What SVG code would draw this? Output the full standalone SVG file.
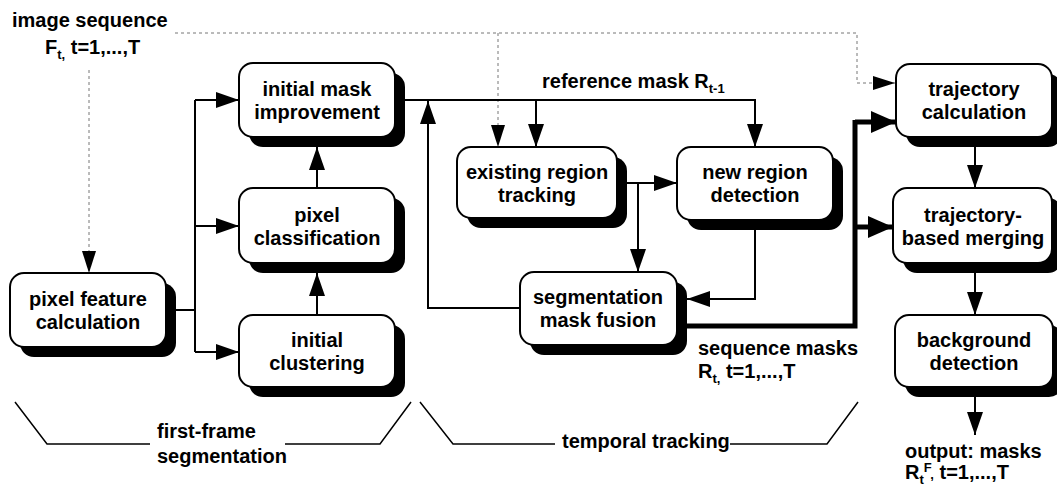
<svg xmlns="http://www.w3.org/2000/svg" width="1057" height="489" viewBox="0 0 1057 489">
<defs>
<marker id="a" markerUnits="userSpaceOnUse" markerWidth="23" markerHeight="16" refX="23" refY="8" orient="auto"><path d="M0,0 L23,8 L0,16 z" fill="#000"/></marker>
<marker id="ak" markerUnits="userSpaceOnUse" markerWidth="25" markerHeight="22" refX="25" refY="11" orient="auto"><path d="M0,0 L25,11 L0,22 z" fill="#000"/></marker>
<marker id="ad" markerUnits="userSpaceOnUse" markerWidth="22" markerHeight="14" refX="22" refY="7" orient="auto"><path d="M0,0 L22,7 L0,14 z" fill="#000"/></marker>
</defs>
<style>
.t{font-family:"Liberation Sans",Arial,sans-serif;font-weight:bold;font-size:20px;fill:#000}
.c{text-anchor:middle}
.s{font-size:13px}
.sh{fill:#000}
.bx{fill:#fff;stroke:#000;stroke-width:2}
.ln{fill:none;stroke:#000;stroke-width:2}
.tk{fill:none;stroke:#000;stroke-width:5}
.dt{fill:none;stroke:#777;stroke-width:1;stroke-dasharray:3,3}
.br{fill:none;stroke:#000;stroke-width:1.5}
</style>
<rect width="1057" height="489" fill="#fff"/>

<g id="connectors">
  <!-- dotted image sequence lines -->
  <path class="dt" d="M175,33 H857 V83 H895" marker-end="url(#ad)"/>
  <path class="dt" d="M498,33 V147" marker-end="url(#ad)"/>
  <path class="dt" d="M89,70 V273" marker-end="url(#ad)"/>
  <!-- first-frame -->
  <path class="ln" d="M166,310 H195"/>
  <path class="ln" d="M195,100 V352"/>
  <path class="ln" d="M195,100 H239" marker-end="url(#a)"/>
  <path class="ln" d="M195,226 H239" marker-end="url(#a)"/>
  <path class="ln" d="M195,352 H239" marker-end="url(#a)"/>
  <path class="ln" d="M317,315 V273" marker-end="url(#a)"/>
  <path class="ln" d="M317,188 V147" marker-end="url(#a)"/>
  <!-- reference mask -->
  <path class="ln" d="M395,100 H755 V147" marker-end="url(#a)"/>
  <path class="ln" d="M536,100 V147" marker-end="url(#a)"/>
  <path class="ln" d="M520,308 H428 V101" marker-end="url(#a)"/>
  <!-- temporal -->
  <path class="ln" d="M617,183 H677" marker-end="url(#a)"/>
  <path class="ln" d="M638,183 V272" marker-end="url(#a)"/>
  <path class="ln" d="M755,220 V299 H687" marker-end="url(#a)"/>
  <!-- sequence masks thick -->
  <path class="tk" d="M677,326 H855 V120"/>
  <path class="tk" d="M855,122 H896" marker-end="url(#ak)"/>
  <path class="tk" d="M855,227 H893" marker-end="url(#ak)"/>
  <!-- right column -->
  <path class="ln" d="M975,147 V188" marker-end="url(#a)"/>
  <path class="ln" d="M975,273 V315" marker-end="url(#a)"/>
  <path class="ln" d="M975,397 V435" marker-end="url(#a)"/>
</g>

<g id="pixel-feature-calculation">
  <rect class="sh" x="20" y="283" width="156" height="74" rx="14"/>
  <rect class="bx" x="10" y="273" width="156" height="74" rx="14"/>
  <text class="t c" x="88" y="306">pixel feature</text>
  <text class="t c" x="88" y="329">calculation</text>
</g>
<g id="initial-mask-improvement">
  <rect class="sh" x="249" y="73" width="156" height="74" rx="14"/>
  <rect class="bx" x="239" y="63" width="156" height="74" rx="14"/>
  <text class="t c" x="317" y="96">initial mask</text>
  <text class="t c" x="317" y="119">improvement</text>
</g>
<g id="pixel-classification">
  <rect class="sh" x="249" y="198" width="156" height="75" rx="14"/>
  <rect class="bx" x="239" y="188" width="156" height="75" rx="14"/>
  <text class="t c" x="317" y="222">pixel</text>
  <text class="t c" x="317" y="245">classification</text>
</g>
<g id="initial-clustering">
  <rect class="sh" x="249" y="325" width="156" height="72" rx="14"/>
  <rect class="bx" x="239" y="315" width="156" height="72" rx="14"/>
  <text class="t c" x="317" y="347">initial</text>
  <text class="t c" x="317" y="370">clustering</text>
</g>
<g id="existing-region-tracking">
  <rect class="sh" x="467" y="157" width="160" height="71" rx="14"/>
  <rect class="bx" x="457" y="147" width="160" height="71" rx="14"/>
  <text class="t c" x="537" y="179">existing region</text>
  <text class="t c" x="537" y="202">tracking</text>
</g>
<g id="new-region-detection">
  <rect class="sh" x="687" y="157" width="156" height="73" rx="14"/>
  <rect class="bx" x="677" y="147" width="156" height="73" rx="14"/>
  <text class="t c" x="755" y="179">new region</text>
  <text class="t c" x="755" y="202">detection</text>
</g>
<g id="segmentation-mask-fusion">
  <rect class="sh" x="530" y="282" width="157" height="73" rx="14"/>
  <rect class="bx" x="520" y="272" width="157" height="73" rx="14"/>
  <text class="t c" x="598" y="304">segmentation</text>
  <text class="t c" x="598" y="327">mask fusion</text>
</g>
<g id="trajectory-calculation">
  <rect class="sh" x="906" y="74" width="156" height="73" rx="14"/>
  <rect class="bx" x="896" y="64" width="156" height="73" rx="14"/>
  <text class="t c" x="974" y="96">trajectory</text>
  <text class="t c" x="974" y="119">calculation</text>
</g>
<g id="trajectory-based-merging">
  <rect class="sh" x="903" y="198" width="159" height="75" rx="14"/>
  <rect class="bx" x="893" y="188" width="159" height="75" rx="14"/>
  <text class="t c" x="973" y="222">trajectory-</text>
  <text class="t c" x="973" y="245">based merging</text>
</g>
<g id="background-detection">
  <rect class="sh" x="905" y="325" width="158" height="72" rx="14"/>
  <rect class="bx" x="895" y="315" width="158" height="72" rx="14"/>
  <text class="t c" x="974" y="347">background</text>
  <text class="t c" x="974" y="370">detection</text>
</g>

<g id="labels">
  <text class="t" x="12" y="27">image sequence</text>
  <text class="t" x="45" y="54">F<tspan class="s" dy="5">t,</tspan><tspan dy="-5"> t=1,...,T</tspan></text>
  <text class="t" x="542" y="88">reference mask R<tspan class="s" dy="5">t-1</tspan></text>
  <text class="t" x="698" y="355">sequence masks</text>
  <text class="t" x="698" y="378">R<tspan class="s" dy="5">t,</tspan><tspan dy="-5"> t=1,...,T</tspan></text>
  <text class="t" x="905" y="458">output: masks</text>
  <text class="t" x="905" y="479">R<tspan class="s" dy="5">t</tspan><tspan class="s" dy="-12">F</tspan><tspan class="s" dy="7">,</tspan><tspan dy="0"> t=1,...,T</tspan></text>
</g>

<g id="brackets">
  <path class="br" d="M15,402 L47,444 H150"/>
  <path class="br" d="M285,444 H380 L411,402"/>
  <text class="t" x="157" y="438">first-frame</text>
  <text class="t" x="157" y="463">segmentation</text>
  <path class="br" d="M420,402 L453,444 H555"/>
  <path class="br" d="M730,444 H827 L858,402"/>
  <text class="t" x="562" y="448">temporal tracking</text>
</g>
</svg>
